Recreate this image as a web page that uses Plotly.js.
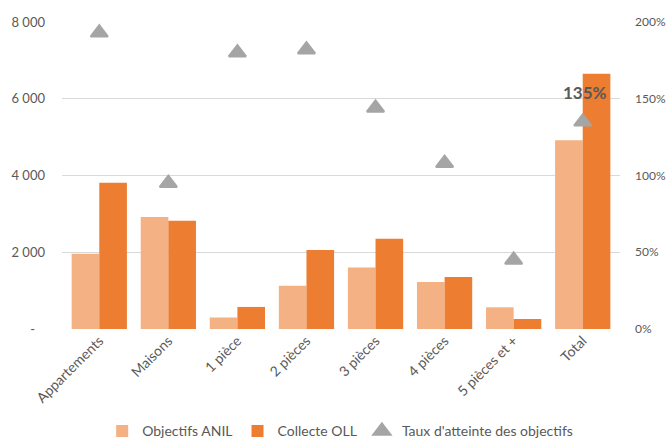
<!DOCTYPE html>
<html>
<head>
<meta charset="utf-8">
<script src="https://cdn.plot.ly/plotly-3.0.1.min.js"></script>
<style>html,body{margin:0;padding:0;background:#fff;}#chart{width:667px;height:441px;}</style>
</head>
<body>
<div id="chart"></div>
<script>
var categories = ["Appartements", "Maisons", "1 pièce", "2 pièces", "3 pièces", "4 pièces", "5 pièces et +", "Total"];
var objectifsANIL = [1960, 2920, 300, 1130, 1600, 1225, 565, 4920];
var collecteOLL = [3810, 2820, 575, 2060, 2350, 1355, 260, 6650];
var tauxAtteinte = [193, 95, 180, 182, 144, 108, 45, 135];
var leftTickVals = [0, 2000, 4000, 6000, 8000];
var leftTickText = ["-\u00a0\u00a0\u00a0", "2 000", "4 000", "6 000", "8 000"];
var rightTickVals = [0, 50, 100, 150, 200];
var rightTickText = ["0%", "50%", "100%", "150%", "200%"];
var labelText = "135%";

var font = "Lato, 'Open Sans', sans-serif";
var grey = "#595959";

var traces = [
  {type: "bar", name: "Objectifs ANIL", x: categories, y: objectifsANIL,
   marker: {color: "#F4B183"}, hoverinfo: "skip"},
  {type: "bar", name: "Collecte OLL", x: categories, y: collecteOLL,
   marker: {color: "#ED7D31"}, hoverinfo: "skip"},
  {type: "scatter", mode: "markers", name: "Taux d'atteinte des objectifs", x: categories, y: tauxAtteinte,
   yaxis: "y2", marker: {symbol: "triangle-up", size: 15, color: "#A5A5A5", line: {color: "#A5A5A5", width: 2}}, hoverinfo: "skip"}
];

var layout = {
  width: 667, height: 441,
  margin: {l: 62, r: 47, t: 22, b: 112},
  paper_bgcolor: "#fff", plot_bgcolor: "#fff",
  font: {family: font, size: 13, color: grey},
  barmode: "group", bargap: 0.2, bargroupgap: 0,
  showlegend: true,
  legend: {orientation: "h", xref: "container", yref: "container", x: 0.51, xanchor: "center", y: 0.022, yanchor: "middle",
           font: {family: font, size: 14, color: grey}, traceorder: "normal", itemwidth: 30},
  xaxis: {type: "category", tickangle: -45, showgrid: false, zeroline: false, showline: false, ticks: "",
          tickfont: {family: font, size: 14, color: grey}},
  yaxis: {range: [0, 8000], tickvals: leftTickVals, ticktext: leftTickText, showgrid: true, gridcolor: "#d9d9d9", gridwidth: 1,
          zeroline: false, showline: false, ticks: "", ticklabelstandoff: 16, tickfont: {family: font, size: 13, color: grey}},
  yaxis2: {overlaying: "y", side: "right", range: [0, 200], tickvals: rightTickVals, ticktext: rightTickText,
           showgrid: false, zeroline: false, showline: false, ticks: "", ticklabelstandoff: 14,
           tickfont: {family: font, size: 12, color: grey}},
  annotations: [{x: categories[7], y: tauxAtteinte[7], xref: "x", yref: "y2", text: "<b>" + labelText + "</b>",
                 showarrow: false, yshift: 29, xshift: 2, font: {family: font, size: 17, color: grey}}]
};

Plotly.newPlot("chart", traces, layout, {displayModeBar: false, staticPlot: true});
</script>
</body>
</html>
